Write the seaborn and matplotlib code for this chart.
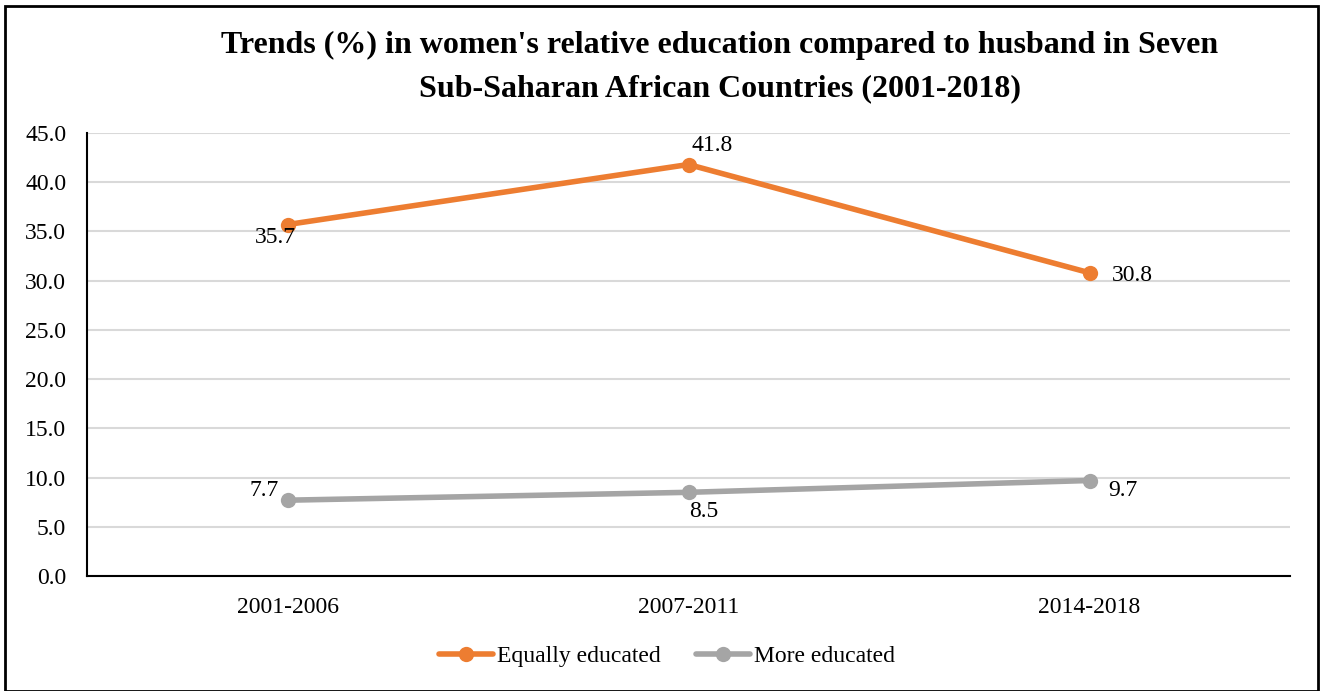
import matplotlib
matplotlib.use("Agg")
import matplotlib.pyplot as plt
import seaborn as sns
import pandas as pd
from matplotlib.patches import Rectangle
from matplotlib.lines import Line2D

periods = ["2001-2006", "2007-2011", "2014-2018"]
equally = [35.7, 41.8, 30.8]
more = [7.7, 8.5, 9.7]
series_names = ["Equally educated", "More educated"]
colors = ["#ED7D31", "#A5A5A5"]
title = "Trends (%) in women's relative education compared to husband in Seven\nSub-Saharan African Countries (2001-2018)"

sns.set_theme(style="white")
plt.rcParams['font.family'] = ['Liberation Serif', 'DejaVu Serif']
plt.rcParams['text.color'] = 'black'
plt.rcParams['xtick.color'] = 'black'
plt.rcParams['ytick.color'] = 'black'

df = pd.DataFrame({
    "period": periods * 2,
    "value": equally + more,
    "series": [series_names[0]] * 3 + [series_names[1]] * 3,
})

fig = plt.figure(figsize=(13.25, 6.91), dpi=100)
ax = fig.add_axes([87/1325, 1 - 576/691, (1290-87)/1325, (576-133)/691])

sns.lineplot(data=df, x="period", y="value", hue="series", palette=colors,
             marker="o", markersize=11, markeredgewidth=0, linewidth=4,
             ax=ax, legend=False, sort=False)

FS = 17
ax.set_xlim(-0.5, 2.5)
ax.set_ylim(0, 45)
ax.set_yticks([i * 5 for i in range(10)])
ax.set_yticklabels([f"{i*5:.1f}" for i in range(10)], fontsize=FS)
ax.set_xticks(range(3))
ax.set_xticklabels(periods, fontsize=FS)
ax.tick_params(axis="both", length=0, colors="black")
ax.tick_params(axis="y", pad=15)
ax.tick_params(axis="x", pad=15)
ax.set_xlabel("")
ax.set_ylabel("")
ax.grid(axis="y", color="#d9d9d9", linewidth=1.5)
ax.set_axisbelow(True)
for s in ["top", "right"]:
    ax.spines[s].set_visible(False)
for s in ["left", "bottom"]:
    ax.spines[s].set_color("black")
    ax.spines[s].set_linewidth(1.5)

# data labels (offsets in points)
eq_offsets = [(-9, -9), (17, 14), (31, -2)]
mo_offsets = [(-17, 7), (11, -14), (24, -7)]
for i, v in enumerate(equally):
    ax.annotate(f"{v:.1f}", (i, v), xytext=eq_offsets[i], textcoords="offset points",
                ha="center", va="center", fontsize=FS, color="black")
for i, v in enumerate(more):
    ax.annotate(f"{v:.1f}", (i, v), xytext=mo_offsets[i], textcoords="offset points",
                ha="center", va="center", fontsize=FS, color="black")

fig.text(720/1325, 1 - 67/691, title, ha="center", va="center", fontsize=23,
         fontweight="bold", linespacing=1.65, color="black")

handles = [Line2D([0], [0], color=c, linewidth=4, marker="o", markersize=11, markeredgewidth=0)
           for c in colors]
fig.legend(handles, series_names, loc="center", bbox_to_anchor=(667/1325, 1 - 656/691),
           ncol=2, frameon=False, fontsize=FS, handlelength=2.3, handletextpad=0.17,
           columnspacing=1.5)

fig.patches.append(Rectangle((5/1325, 0.5/691), 1313/1325, 685/691, transform=fig.transFigure,
                             fill=False, edgecolor="black", linewidth=2))

fig.savefig("out.png", dpi=100)
